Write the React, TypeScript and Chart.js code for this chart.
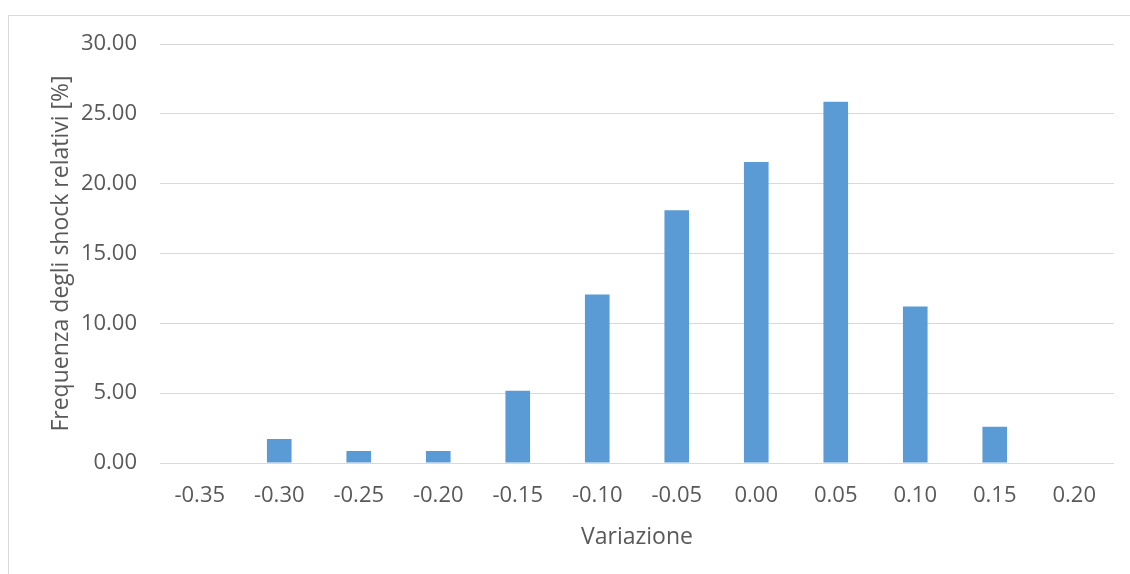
import React, { useEffect, useRef } from "react";
import { Chart, registerables } from "chart.js";

Chart.register(...registerables);

// Bin labels of the relative shock distribution
const categories = ["-0.35", "-0.30", "-0.25", "-0.20", "-0.15", "-0.10", "-0.05", "0.00", "0.05", "0.10", "0.15", "0.20"];
// Frequency of relative shocks per bin, in percent
const frequencies = [0, 1.72, 0.86, 0.86, 5.17, 12.07, 18.1, 21.55, 25.86, 11.21, 2.59, 0];

const yMin = 0;
const yMax = 30;
const yStep = 5;

const textColor = "#595959";
const gridColor = "#d9d9d9";
const barColor = "#5b9bd5";
const fontFamily = "'Open Sans', sans-serif";

export default function App() {
  const canvasRef = useRef<HTMLCanvasElement | null>(null);

  useEffect(() => {
    if (!canvasRef.current) return;
    const chart = new Chart(canvasRef.current, {
      type: "bar",
      data: {
        labels: categories,
        datasets: [
          {
            data: frequencies,
            backgroundColor: barColor,
            borderWidth: 0,
            barPercentage: 0.31,
            categoryPercentage: 1,
          },
        ],
      },
      options: {
        animation: false,
        responsive: false,
        maintainAspectRatio: false,
        layout: { padding: { top: 28, right: 16, bottom: 0, left: 0 } },
        plugins: {
          legend: { display: false },
          tooltip: { enabled: false },
        },
        scales: {
          x: {
            grid: { display: false, drawTicks: false },
            border: { display: false },
            ticks: {
              color: textColor,
              font: { family: fontFamily, size: 22 },
              padding: 20,
              maxRotation: 0,
            },
            title: {
              display: true,
              text: "Variazione",
              color: textColor,
              font: { family: fontFamily, size: 23 },
              padding: { top: 0, bottom: 23 },
            },
            afterFit: (scale: any) => {
              scale.height = 111;
            },
          },
          y: {
            min: yMin,
            max: yMax,
            grid: { color: gridColor, lineWidth: 1, drawTicks: false },
            border: { display: false },
            ticks: {
              stepSize: yStep,
              color: textColor,
              font: { family: fontFamily, size: 22 },
              padding: 23,
              callback: (v: any) => Number(v).toFixed(2),
            },
            title: {
              display: true,
              text: "Frequenza degli shock relativi [%]",
              color: textColor,
              font: { family: fontFamily, size: 23 },
              padding: { top: 39, bottom: 0 },
            },
            afterFit: (scale: any) => {
              scale.width = 151;
              // the plot area edges come from the layout padding alone
              scale.paddingTop = 0;
              scale.paddingBottom = 0;
            },
          },
        },
      },
    });
    return () => chart.destroy();
  }, []);

  return (
    <div
      style={{
        position: "absolute",
        left: 8,
        top: 15,
        width: 1122,
        height: 559,
        borderLeft: `1px solid ${gridColor}`,
        borderTop: `1px solid ${gridColor}`,
        background: "#ffffff",
        overflow: "hidden",
      }}
    >
      <canvas ref={canvasRef} width={1121} height={558} style={{ display: "block" }} />
    </div>
  );
}
